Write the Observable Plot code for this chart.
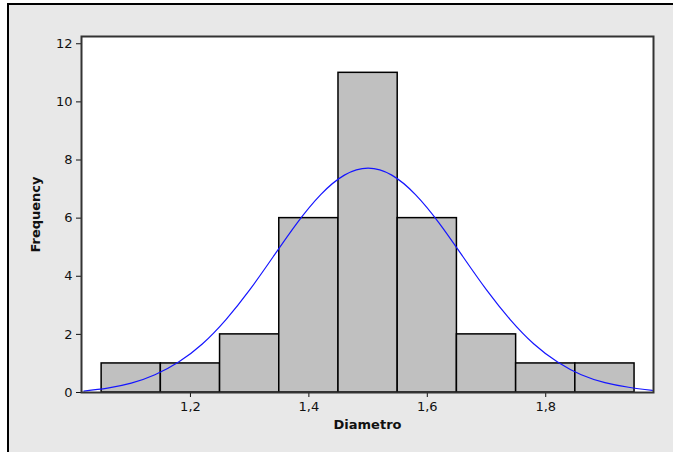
<!DOCTYPE html>
<html>
<head>
<meta charset="utf-8">
<script src="https://cdn.jsdelivr.net/npm/d3@7"></script>
<script src="https://cdn.jsdelivr.net/npm/@observablehq/plot@0.6"></script>
<style>
  html, body { margin: 0; padding: 0; background: #ffffff; }
  #wrap { position: relative; width: 673px; height: 452px; overflow: hidden; }
  #bg { position: absolute; left: 7px; top: 3px; right: 0; bottom: 0;
        background: #e8e8e8; border-top: 2px solid #000; border-left: 2px solid #000; }
  #chart { position: absolute; left: 0; top: 0; }
  #chart svg { background: transparent !important; }
  [aria-label="x-axis label"], [aria-label="y-axis label"] { font-weight: bold; }
</style>
</head>
<body>
<div id="wrap"><div id="bg"></div><div id="chart"></div></div>
<script>
// Histogram bins (Diametro) and counts
const binStart = [1.05, 1.15, 1.25, 1.35, 1.45, 1.55, 1.65, 1.75, 1.85];
const binEnd   = [1.15, 1.25, 1.35, 1.45, 1.55, 1.65, 1.75, 1.85, 1.95];
const counts   = [1, 1, 2, 6, 11, 6, 2, 1, 1];

// Fitted normal curve
const curveX = [1.02, 1.06, 1.10, 1.14, 1.18, 1.22, 1.26, 1.30, 1.34, 1.38, 1.42, 1.46, 1.50,
                1.54, 1.58, 1.62, 1.66, 1.70, 1.74, 1.78, 1.82, 1.86, 1.90, 1.94, 1.98];
const curveY = [0.05, 0.15, 0.32, 0.61, 1.05, 1.67, 2.51, 3.53, 4.68, 5.83, 6.81, 7.48, 7.72,
                7.48, 6.81, 5.83, 4.68, 3.53, 2.51, 1.67, 1.05, 0.61, 0.34, 0.18, 0.07];

const xTicks = [1.2, 1.4, 1.6, 1.8];
const yTicks = [0, 2, 4, 6, 8, 10, 12];

const bars = counts.map((c, i) => ({x1: binStart[i], x2: binEnd[i], y: c}));
const curve = curveX.map((x, i) => ({x, y: curveY[i]}));

const chart = Plot.plot({
  width: 673,
  height: 452,
  marginLeft: 81,
  marginRight: 20,
  marginTop: 36,
  marginBottom: 60,
  style: {fontFamily: "DejaVu Sans", fontSize: "13px", color: "#111", background: "transparent"},
  x: {domain: [1.016, 1.982], ticks: xTicks, tickFormat: d => d.toFixed(1).replace(".", ","),
      tickSize: 5, label: "Diametro", labelAnchor: "center", labelOffset: 36, labelArrow: "none"},
  y: {domain: [0, 12.25], ticks: yTicks, tickSize: 5, label: "Frequency", labelAnchor: "center",
      labelOffset: 51, labelArrow: "none"},
  marks: [
    Plot.frame({fill: "white"}),
    Plot.rect(bars, {x1: "x1", x2: "x2", y1: 0, y2: "y", fill: "#c0c0c0", stroke: "#000", strokeWidth: 1.5}),
    Plot.line(curve, {x: "x", y: "y", curve: "natural", stroke: "#1515ff", strokeWidth: 1.2}),
    Plot.frame({stroke: "#333", strokeWidth: 2})
  ]
});
// strip any label arrows
chart.querySelectorAll('[aria-label="x-axis label"] text, [aria-label="y-axis label"] text').forEach(t => {
  t.textContent = t.textContent.replace(/\s*[→↑←↓]\s*/g, "").trim();
});
document.getElementById("chart").appendChild(chart);
</script>
</body>
</html>
